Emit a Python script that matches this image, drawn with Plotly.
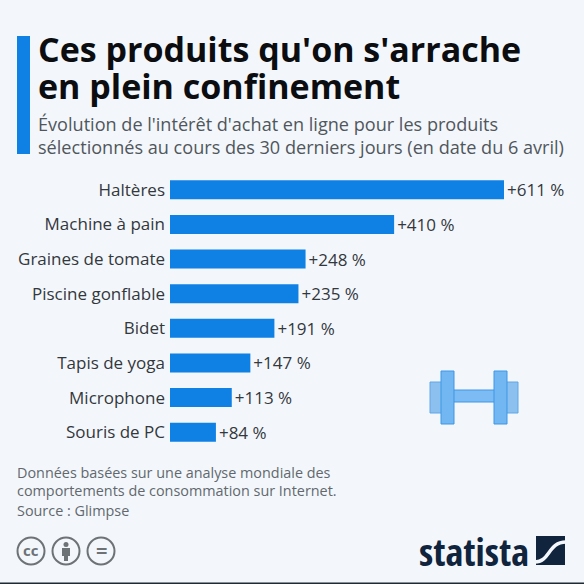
import plotly.graph_objects as go

categories = ["Haltères", "Machine à pain", "Graines de tomate", "Piscine gonflable",
              "Bidet", "Tapis de yoga", "Microphone", "Souris de PC"]
values = [611, 410, 248, 235, 191, 147, 113, 84]
labels = ["+611 %", "+410 %", "+248 %", "+235 %", "+191 %", "+147 %", "+113 %", "+84 %"]

W = H = 584
FONT = "Open Sans"
BLUE = "#0f80e4"
BG = "#f3f7fb"
NAVY = "#10243e"

def X(p): return p / W
def Y(p): return 1 - p / H

fig = go.Figure(go.Bar(
    y=categories, x=values, orientation="h", text=labels,
    textposition="outside", cliponaxis=False, constraintext="none",
    textfont=dict(family=FONT, size=17, color="#33383d"),
    marker=dict(color=BLUE, line=dict(width=0)),
    width=0.55, hoverinfo="skip",
))

def txt(x, y, s, size, color, bold=False, anchor="left", font=FONT):
    fig.add_annotation(xref="paper", yref="paper", x=X(x), y=Y(y), text=f"<b>{s}</b>" if bold else s,
                       showarrow=False, xanchor=anchor, yanchor="middle", borderpad=0,
                       font=dict(family=font, size=size, color=color))

def rect(x0, y0, x1, y1, fill, line=None, w=1):
    fig.add_shape(type="rect", xref="paper", yref="paper", x0=X(x0), x1=X(x1), y0=Y(y0), y1=Y(y1),
                  fillcolor=fill, layer="below",
                  line=dict(color=line or fill, width=w if line else 0))

# accent bar
rect(17, 36, 30, 154, BLUE)
# dark bottom edge of the screenshot
rect(0, 582.6, 584, 584, "#1f2a33")

txt(37, 49, "Ces produits qu'on s'arrache", 34, "#0b0d10", True)
txt(37, 86, "en plein confinement", 34, "#0b0d10", True)
txt(37, 124, "Évolution de l'intérêt d'achat en ligne pour les produits", 18.1, "#50565c")
txt(37, 147, "sélectionnés au cours des 30 derniers jours (en date du 6 avril)", 18.1, "#50565c")

txt(16, 472, "Données basées sur une analyse mondiale des", 14.4, "#62686e")
txt(16, 490, "comportements de consommation sur Internet.", 14.4, "#62686e")
txt(16, 510, "Source : Glimpse", 14.4, "#62686e")

# dumbbell icon
LB = "#72b6f2"
ED = "#3d97e6"
rect(430, 382, 444, 413, "#8cc0ee", "#5fa6e6", 1)
rect(506, 382, 518, 413, "#8cc0ee", "#5fa6e6", 1)
rect(453, 390, 495, 402, "#7cbbf3", ED, 1)
rect(441, 371, 454, 424, LB, ED, 1)
rect(494, 371, 507, 424, LB, ED, 1)

# licence icons
GREY = "#6d7277"
for cx in [31, 66, 101]:
    fig.add_shape(type="circle", xref="paper", yref="paper", x0=X(cx - 13.5), x1=X(cx + 13.5),
                  y0=Y(564.5), y1=Y(537.5), layer="below",
                  line=dict(color=GREY, width=2), fillcolor="rgba(0,0,0,0)")
txt(31, 550, "cc", 15, GREY, True, "center")
txt(101, 550, "=", 20, GREY, True, "center")
fig.add_shape(type="circle", xref="paper", yref="paper", x0=X(63.5), x1=X(68.5), y0=Y(547), y1=Y(542),
              fillcolor=GREY, line=dict(width=0), layer="below")
rect(62, 548, 70, 556, GREY)
rect(64, 556, 68, 561, GREY)

# statista wordmark and logo
txt(418, 551, "statista", 38, NAVY, True, "left", "Open Sans Condensed, Liberation Sans Narrow, Open Sans")
rect(536, 536, 565, 565, NAVY)
fig.add_shape(type="path", xref="paper", yref="paper", layer="below",
              path=f"M {X(535)} {Y(562)} C {X(550)} {Y(562)} {X(548)} {Y(542)} {X(566)} {Y(542)}",
              line=dict(color=BG, width=3.5))

fig.update_layout(
    width=W, height=H, autosize=False,
    margin=dict(l=0, r=0, t=0, b=0),
    paper_bgcolor=BG, plot_bgcolor="rgba(0,0,0,0)",
    showlegend=False, font=dict(family=FONT),
    xaxis=dict(domain=[X(170), X(504)], range=[0, 611], visible=False, fixedrange=True),
    yaxis=dict(domain=[Y(449.5), Y(172.5)], autorange="reversed", automargin=False,
               showgrid=False, showline=False, zeroline=False, ticks="", ticklabelstandoff=4,
               tickfont=dict(family=FONT, size=17, color="#33383d"), fixedrange=True),
)
fig.write_html("out.html", config=dict(displayModeBar=False),
               post_script="document.body.style.margin='0';document.body.style.overflow='hidden';")
